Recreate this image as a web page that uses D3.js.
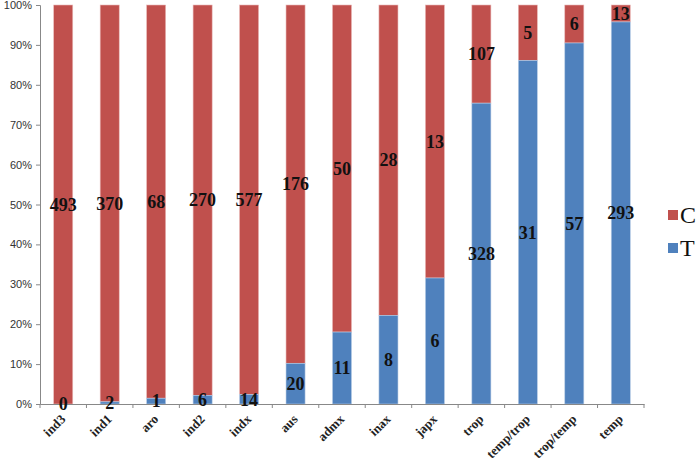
<!DOCTYPE html>
<html>
<head>
<meta charset="utf-8">
<script src="https://cdn.jsdelivr.net/npm/d3@7"></script>
<style>
body { margin: 0; background: #fff; }
.axis path, .axis line { stroke: #888; }
.axis--y text { font-family: "Liberation Sans", Arial, sans-serif; font-size: 11px; fill: #333; }
.axis--x text { font-family: "Liberation Serif", "Times New Roman", serif; font-size: 13px; font-weight: bold; fill: #222; }
.lbl { font-family: "Liberation Serif", "Times New Roman", serif; font-size: 18px; font-weight: bold; fill: #111; }
</style>
</head>
<body>
<svg width="700" height="461"></svg>
<script>
var categories = ["ind3", "ind1", "aro", "ind2", "indx", "aus", "admx", "inax", "japx", "trop", "temp/trop", "trop/temp", "temp"];
var tValues = [0, 2, 1, 6, 14, 20, 11, 8, 6, 328, 31, 57, 293];
var cValues = [493, 370, 68, 270, 577, 176, 50, 28, 13, 107, 5, 6, 13];
var yTicks = [0, 0.1, 0.2, 0.3, 0.4, 0.5, 0.6, 0.7, 0.8, 0.9, 1];

var svg = d3.select("svg"),
    margin = {top: 5, right: 56, bottom: 57, left: 40},
    width = +svg.attr("width") - margin.left - margin.right,
    height = +svg.attr("height") - margin.top - margin.bottom,
    g = svg.append("g").attr("transform", "translate(" + margin.left + "," + margin.top + ")");

var x = d3.scaleBand()
    .domain(categories)
    .range([0, width])
    .paddingInner(0.59)
    .paddingOuter(0.295);

var y = d3.scaleLinear()
    .domain([0, 1])
    .range([height, 0]);

var colors = {C: "#C0504D", T: "#4F81BD"};

var rows = categories.map(function(c, i) {
    var total = tValues[i] + cValues[i];
    return {cat: c, t: tValues[i], c: cValues[i], tf: tValues[i] / total};
});

// y axis
g.append("g")
    .attr("class", "axis axis--y")
    .call(d3.axisLeft(y).tickValues(yTicks).tickFormat(d3.format(".0%")).tickSize(4).tickPadding(4));

// bars: C on top, T at bottom
g.selectAll(".barC")
    .data(rows)
  .enter().append("rect")
    .attr("class", "barC")
    .attr("x", function(d) { return x(d.cat); })
    .attr("width", x.bandwidth())
    .attr("y", y(1))
    .attr("height", function(d) { return y(d.tf) - y(1); })
    .attr("fill", colors.C)
    .attr("stroke", "#e9b9b8")
    .attr("stroke-width", 0.6);

g.selectAll(".barT")
    .data(rows)
  .enter().append("rect")
    .attr("class", "barT")
    .attr("x", function(d) { return x(d.cat); })
    .attr("width", x.bandwidth())
    .attr("y", function(d) { return y(d.tf); })
    .attr("height", function(d) { return y(0) - y(d.tf); })
    .attr("fill", colors.T)
    .attr("stroke", "#b9cde6")
    .attr("stroke-width", 0.6);

// x axis
var xAxis = g.append("g")
    .attr("class", "axis axis--x")
    .attr("transform", "translate(0," + height + ")")
    .call(d3.axisBottom(x).tickSize(0).tickPadding(0));
xAxis.selectAll(".tick text")
    .attr("text-anchor", "end")
    .attr("dy", 0)
    .attr("transform", "translate(3,16) rotate(-45)");
// ticks between categories
var step = x.step();
var bounds = d3.range(categories.length + 1).map(function(i) { return i * step; });
xAxis.selectAll(".sep")
    .data(bounds)
  .enter().append("line")
    .attr("class", "sep")
    .attr("x1", function(d) { return d; })
    .attr("x2", function(d) { return d; })
    .attr("y1", 0)
    .attr("y2", 4);

// value labels
g.selectAll(".lblC")
    .data(rows)
  .enter().append("text")
    .attr("class", "lbl")
    .attr("text-anchor", "middle")
    .attr("dy", "0.35em")
    .attr("x", function(d) { return x(d.cat) + x.bandwidth() / 2; })
    .attr("y", function(d) { return y((1 + d.tf) / 2); })
    .text(function(d) { return d.c; });

g.selectAll(".lblT")
    .data(rows)
  .enter().append("text")
    .attr("class", "lbl")
    .attr("text-anchor", "middle")
    .attr("dy", "0.35em")
    .attr("x", function(d) { return x(d.cat) + x.bandwidth() / 2; })
    .attr("y", function(d) { return y(d.tf / 2); })
    .text(function(d) { return d.t; });

// legend
var legend = svg.append("g").attr("transform", "translate(668,210)");
var keys = ["C", "T"];
keys.forEach(function(k, i) {
    var row = legend.append("g").attr("transform", "translate(0," + (i * 33) + ")");
    row.append("rect").attr("width", 10).attr("height", 10).attr("fill", colors[k]);
    row.append("text")
        .attr("x", 12)
        .attr("y", 5)
        .attr("dy", "0.35em")
        .style("font-family", "'Liberation Serif', 'Times New Roman', serif")
        .style("font-size", "24px")
        .style("fill", "#111")
        .text(k);
});
</script>
</body>
</html>
